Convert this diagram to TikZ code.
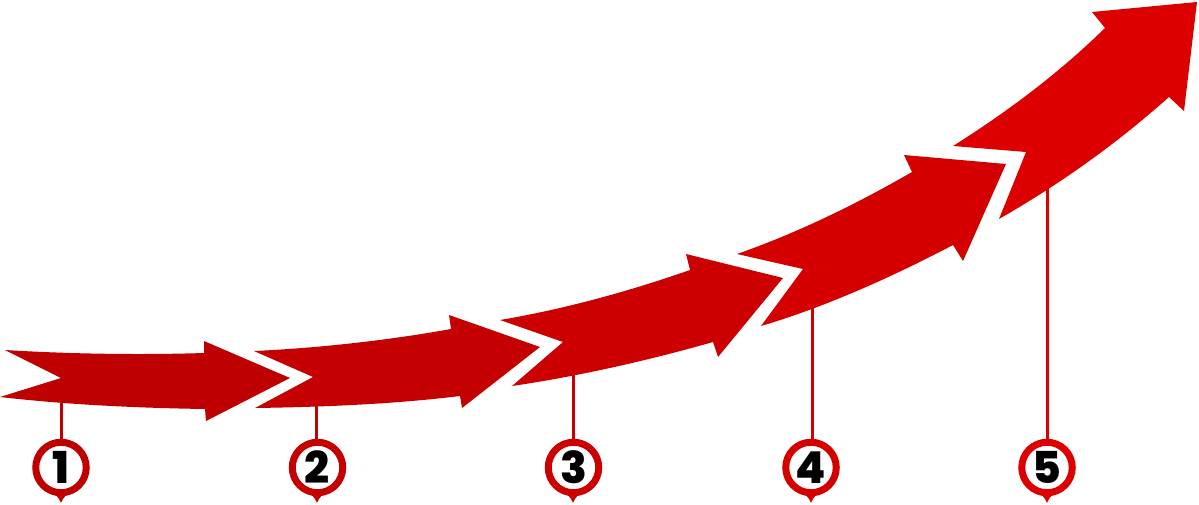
\documentclass[tikz,border=0pt]{standalone}
\usepackage{fontspec}
\newfontfamily\pinfont{Poppins ExtraBold}
\definecolor{ca}{HTML}{BE0000}
\definecolor{cb}{HTML}{C40000}
\definecolor{cc}{HTML}{CC0000}
\definecolor{cd}{HTML}{D40000}
\definecolor{ce}{HTML}{DD0000}
\newcommand{\pinnum}[1]{\raisebox{-1.5pt}{#1}}
\tikzset{
  arrowshape/.style={fill=#1,draw=none},
  pincircle/.style={circle,draw=#1,line width=7pt,fill=white,minimum size=50.5pt,inner sep=0pt,font=\pinfont\fontsize{44}{44}\selectfont,text=black},
  pintip/.style={fill=#1,draw=none},
  stem/.style={draw=#1,line width=3pt}
}
\begin{document}
\begin{tikzpicture}[x=1pt,y=-1pt]
\useasboundingbox (0,0) rectangle (1199,504);
% arrows
\path[arrowshape=ca] (5,350) .. controls (70,354) and (140,355) .. (204,353) -- (204,341) -- (290,378) -- (206,421) -- (205,409) .. controls (140,408) and (70,405) .. (0,397) -- (61,378) -- cycle;
\path[arrowshape=cb] (254,351) .. controls (320,348) and (390,340) .. (451,329) -- (449,315) -- (540,347) -- (462,408) -- (460,396) .. controls (395,404) and (325,407) .. (255,408) -- (313,377) -- cycle;
\path[arrowshape=cc] (500,320) .. controls (565,309) and (630,291) .. (690,270) -- (686,254) -- (783,278) -- (718,357) -- (713,342) .. controls (650,360) and (580,376) .. (512,386) -- (563,342) -- cycle;
\path[arrowshape=cd] (737,254) .. controls (800,232) and (860,202) .. (912,172) -- (904,155) -- (1006,164) -- (963,261) -- (953,245) .. controls (890,278) and (825,307) .. (761,326) -- (803,269) -- cycle;
\path[arrowshape=ce] (953,146) .. controls (1010,110) and (1060,72) .. (1105,28) -- (1092,12) -- (1197,2) -- (1184,111) -- (1169,97) .. controls (1115,145) and (1060,184) .. (999,219) -- (1026,152) -- cycle;
% stem tops
\coordinate (s1) at (61,402);
\coordinate (s2) at (316,405);
\coordinate (s3) at (573,374);
\coordinate (s4) at (812,306);
\coordinate (s5) at (1047,188);
% pin tips
\path[pintip=ca] (47,491) .. controls (55,493) and (58,496) .. (61,503) .. controls (64,496) and (67,493) .. (75,491) -- cycle;
\path[pintip=cb] (303,491) .. controls (311,493) and (314,496) .. (317,503) .. controls (320,496) and (323,493) .. (331,491) -- cycle;
\path[pintip=cc] (559,491) .. controls (567,493) and (570,496) .. (573,503) .. controls (576,496) and (579,493) .. (587,491) -- cycle;
\path[pintip=cd] (797,491) .. controls (805,493) and (808,496) .. (811,503) .. controls (814,496) and (817,493) .. (825,491) -- cycle;
\path[pintip=ce] (1033,491) .. controls (1041,493) and (1044,496) .. (1047,503) .. controls (1050,496) and (1053,493) .. (1061,491) -- cycle;
% pins
\node[pincircle=ca] (p1) at (61,467.5) {\pinnum{1}};
\node[pincircle=cb] (p2) at (317.5,467.5) {\pinnum{2}};
\node[pincircle=cc] (p3) at (573.5,467.5) {\pinnum{3}};
\node[pincircle=cd] (p4) at (811,467.5) {\pinnum{4}};
\node[pincircle=ce] (p5) at (1047,467.5) {\pinnum{5}};
% stems
\draw[stem=ca] (s1) -- (p1.north);
\draw[stem=cb] (s2) -- (s2 |- p2.north);
\draw[stem=cc] (s3) -- (s3 |- p3.north);
\draw[stem=cd] (s4) -- (s4 |- p4.north);
\draw[stem=ce] (s5) -- (p5.north);
\end{tikzpicture}
\end{document}
